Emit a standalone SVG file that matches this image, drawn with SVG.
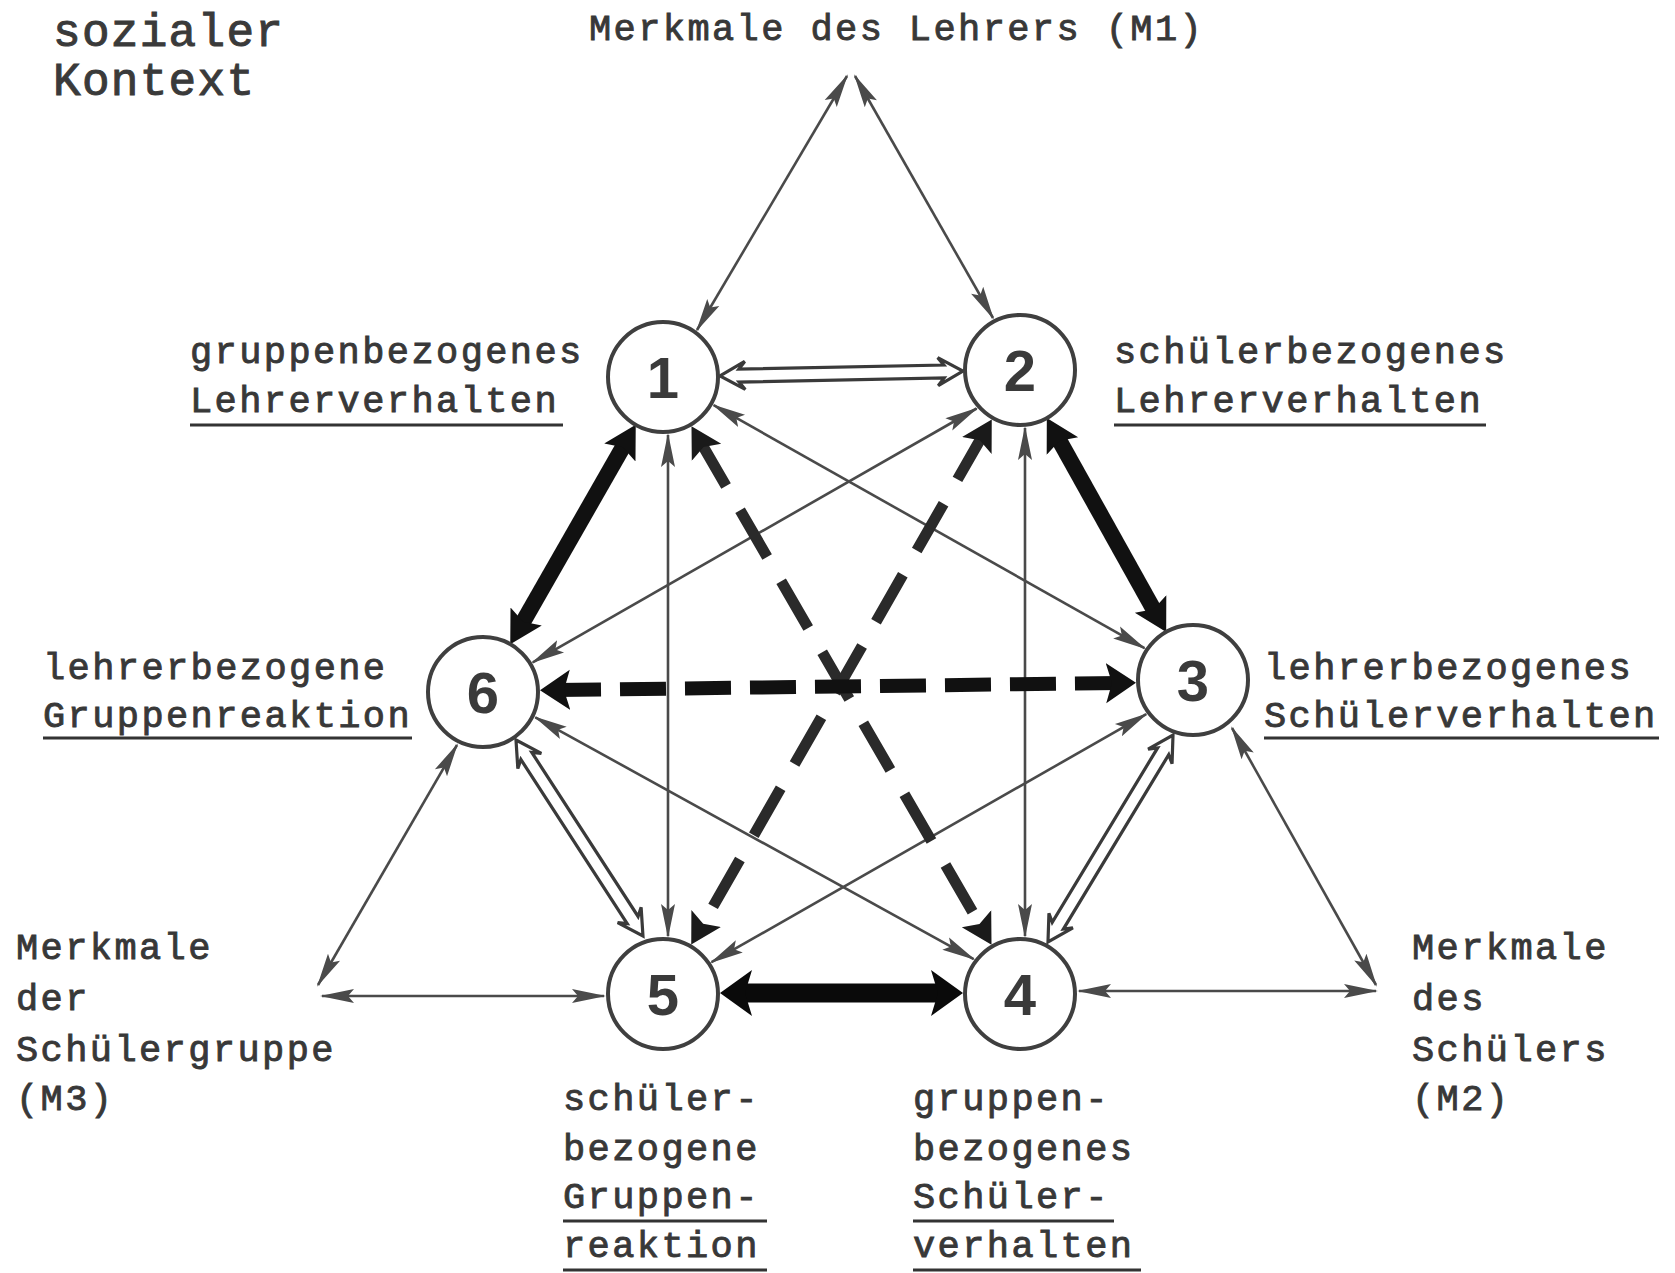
<svg xmlns="http://www.w3.org/2000/svg" width="1675" height="1273" viewBox="0 0 1675 1273">
<style>
.t{font-family:"Liberation Mono","DejaVu Sans Mono",monospace;font-size:37px;letter-spacing:2.4px;fill:#383838;stroke:#383838;stroke-width:0.9}
.tb{font-family:"Liberation Mono","DejaVu Sans Mono",monospace;font-size:46px;letter-spacing:1.3px;fill:#3a3a3a;stroke:#3a3a3a;stroke-width:1}
.ul{stroke:#333;stroke-width:2.8;fill:none}
.thin{stroke:#4a4a4a;stroke-width:2.6;fill:none;marker-start:url(#mThin);marker-end:url(#mThin)}
.solid{stroke:#111;stroke-width:16;fill:none;marker-start:url(#mBig);marker-end:url(#mBig)}
.solidH{stroke:#0a0a0a;stroke-width:19;fill:none;marker-start:url(#mHor);marker-end:url(#mHor)}
.dash6{stroke:#111;stroke-width:14;fill:none;stroke-dasharray:46 19;marker-start:url(#mDash);marker-end:url(#mDash)}
.dashX{stroke:#2a2a2a;stroke-width:11;fill:none;stroke-dasharray:54 28;marker-start:url(#mMed);marker-end:url(#mMed)}
.hollow{fill:#fff;stroke:#3a3a3a;stroke-width:3.2;stroke-linejoin:miter}
.node circle{fill:#fff;stroke:#3f3f3f;stroke-width:4}
.node text{font-family:"Liberation Sans","Arial",sans-serif;font-weight:bold;font-size:58px;fill:#3a3a3a;text-anchor:middle}
</style>
<defs>
<marker id="mThin" markerUnits="userSpaceOnUse" viewBox="0 -9 34 18" markerWidth="34" markerHeight="18" refX="32" refY="0" orient="auto-start-reverse">
<path d="M34,0 L0,-7 L6,0 L0,7 Z" fill="#4a4a4a"/>
</marker>
<marker id="mBig" markerUnits="userSpaceOnUse" viewBox="0 -19 32 38" markerWidth="32" markerHeight="38" refX="15" refY="0" orient="auto-start-reverse">
<path d="M32,0 L0,-18 L6,0 L0,18 Z" fill="#111"/>
</marker>
<marker id="mHor" markerUnits="userSpaceOnUse" viewBox="0 -24 32 48" markerWidth="32" markerHeight="48" refX="16" refY="0" orient="auto-start-reverse">
<path d="M32,0 L0,-23 L7,0 L0,23 Z" fill="#0a0a0a"/>
</marker>
<marker id="mDash" markerUnits="userSpaceOnUse" viewBox="0 -21 30 42" markerWidth="30" markerHeight="42" refX="15" refY="0" orient="auto-start-reverse">
<path d="M30,0 L0,-20 L6,0 L0,20 Z" fill="#111"/>
</marker>
<marker id="mMed" markerUnits="userSpaceOnUse" viewBox="0 -18 30 36" markerWidth="30" markerHeight="36" refX="15" refY="0" orient="auto-start-reverse">
<path d="M30,0 L0,-17 L6,0 L0,17 Z" fill="#1a1a1a"/>
</marker>
</defs>
<rect width="1675" height="1273" fill="#fff"/>

<g id="connectors">
<line class="thin" x1="668" y1="435" x2="668" y2="936"/>
<line class="thin" x1="1025" y1="428" x2="1025" y2="936"/>
<line class="thin" x1="713.7" y1="405.2" x2="1144.5" y2="648.2"/>
<line class="thin" x1="976.6" y1="408.5" x2="532.8" y2="662.3"/>
<line class="thin" x1="535.3" y1="717.3" x2="973.7" y2="959.1"/>
<line class="thin" x1="1146.2" y1="714.2" x2="711.5" y2="962.2"/>
<line class="thin" x1="847" y1="76" x2="697" y2="330"/>
<line class="thin" x1="855" y1="76" x2="993" y2="318"/>
<line class="thin" x1="318" y1="985" x2="457" y2="745"/>
<line class="thin" x1="322" y1="996" x2="604" y2="996"/>
<line class="thin" x1="1376" y1="985" x2="1232" y2="728"/>
<line class="thin" x1="1376" y1="991" x2="1079" y2="991"/>

<line class="dashX" x1="699" y1="439.3" x2="984" y2="931.7"/>
<line class="dashX" x1="984.3" y1="432.5" x2="698.7" y2="931.5"/>
<line class="dash6" x1="555" y1="690" x2="1121" y2="683"/>

<line class="solid" x1="627.3" y1="439.5" x2="518.7" y2="629.5"/>
<line class="solid" x1="1055.1" y1="432.9" x2="1157.9" y2="617.1"/>
<line class="solidH" x1="736" y1="993" x2="947" y2="993"/>

<path class="hollow" transform="translate(720 375.9) rotate(-1.12)" d="M0,0 L25,-14 L19,-6.5 L224,-6.5 L218,-14 L243,0 L218,14 L224,6.5 L19,6.5 L25,14 Z"/>
<path class="hollow" transform="translate(516 740) rotate(57.06)" d="M0,0 L25,-14 L19,-6.5 L214.5,-6.5 L208.5,-14 L233.5,0 L208.5,14 L214.5,6.5 L19,6.5 L25,14 Z"/>
<path class="hollow" transform="translate(1173 735) rotate(121.13)" d="M0,0 L25,-14 L19,-6.5 L222.8,-6.5 L216.8,-14 L241.8,0 L216.8,14 L222.8,6.5 L19,6.5 L25,14 Z"/>
</g>

<g id="node1" class="node"><circle cx="663" cy="377" r="55"/><text x="663" y="398">1</text></g>
<g id="node2" class="node"><circle cx="1020" cy="370" r="55"/><text x="1020" y="391">2</text></g>
<g id="node3" class="node"><circle cx="1193" cy="680" r="55"/><text x="1193" y="701">3</text></g>
<g id="node4" class="node"><circle cx="1020" cy="994" r="55"/><text x="1020" y="1015">4</text></g>
<g id="node5" class="node"><circle cx="663" cy="994" r="55"/><text x="663" y="1015">5</text></g>
<g id="node6" class="node"><circle cx="483" cy="692" r="55"/><text x="483" y="713">6</text></g>

<g id="label-kontext">
<text class="tb" x="53" y="46">sozialer</text>
<text class="tb" x="53" y="95">Kontext</text>
</g>
<g id="label-M1"><text class="t" x="589" y="40">Merkmale des Lehrers (M1)</text></g>
<g id="label1">
<text class="t" x="190" y="363">gruppenbezogenes</text>
<text class="t" x="190" y="412">Lehrerverhalten</text>
<line class="ul" x1="190" y1="425" x2="563" y2="425"/>
</g>
<g id="label2">
<text class="t" x="1114" y="363">schülerbezogenes</text>
<text class="t" x="1114" y="412">Lehrerverhalten</text>
<line class="ul" x1="1114" y1="425" x2="1486" y2="425"/>
</g>
<g id="label6">
<text class="t" x="43" y="679">lehrerbezogene</text>
<text class="t" x="43" y="727">Gruppenreaktion</text>
<line class="ul" x1="43" y1="738" x2="412" y2="738"/>
</g>
<g id="label3">
<text class="t" x="1264" y="679">lehrerbezogenes</text>
<text class="t" x="1264" y="727">Schülerverhalten</text>
<line class="ul" x1="1264" y1="738" x2="1659" y2="738"/>
</g>
<g id="label-M3">
<text class="t" x="16" y="959">Merkmale</text>
<text class="t" x="16" y="1010">der</text>
<text class="t" x="16" y="1061">Schülergruppe</text>
<text class="t" x="16" y="1110">(M3)</text>
</g>
<g id="label-M2">
<text class="t" x="1412" y="959">Merkmale</text>
<text class="t" x="1412" y="1010">des</text>
<text class="t" x="1412" y="1061">Schülers</text>
<text class="t" x="1412" y="1110">(M2)</text>
</g>
<g id="label5">
<text class="t" x="563" y="1110">schüler-</text>
<text class="t" x="563" y="1160">bezogene</text>
<text class="t" x="563" y="1208">Gruppen-</text>
<line class="ul" x1="563" y1="1221" x2="767" y2="1221"/>
<text class="t" x="563" y="1257">reaktion</text>
<line class="ul" x1="563" y1="1270" x2="767" y2="1270"/>
</g>
<g id="label4">
<text class="t" x="913" y="1110">gruppen-</text>
<text class="t" x="913" y="1160">bezogenes</text>
<text class="t" x="913" y="1208">Schüler-</text>
<line class="ul" x1="913" y1="1221" x2="1114" y2="1221"/>
<text class="t" x="913" y="1257">verhalten</text>
<line class="ul" x1="913" y1="1270" x2="1141" y2="1270"/>
</g>
</svg>
